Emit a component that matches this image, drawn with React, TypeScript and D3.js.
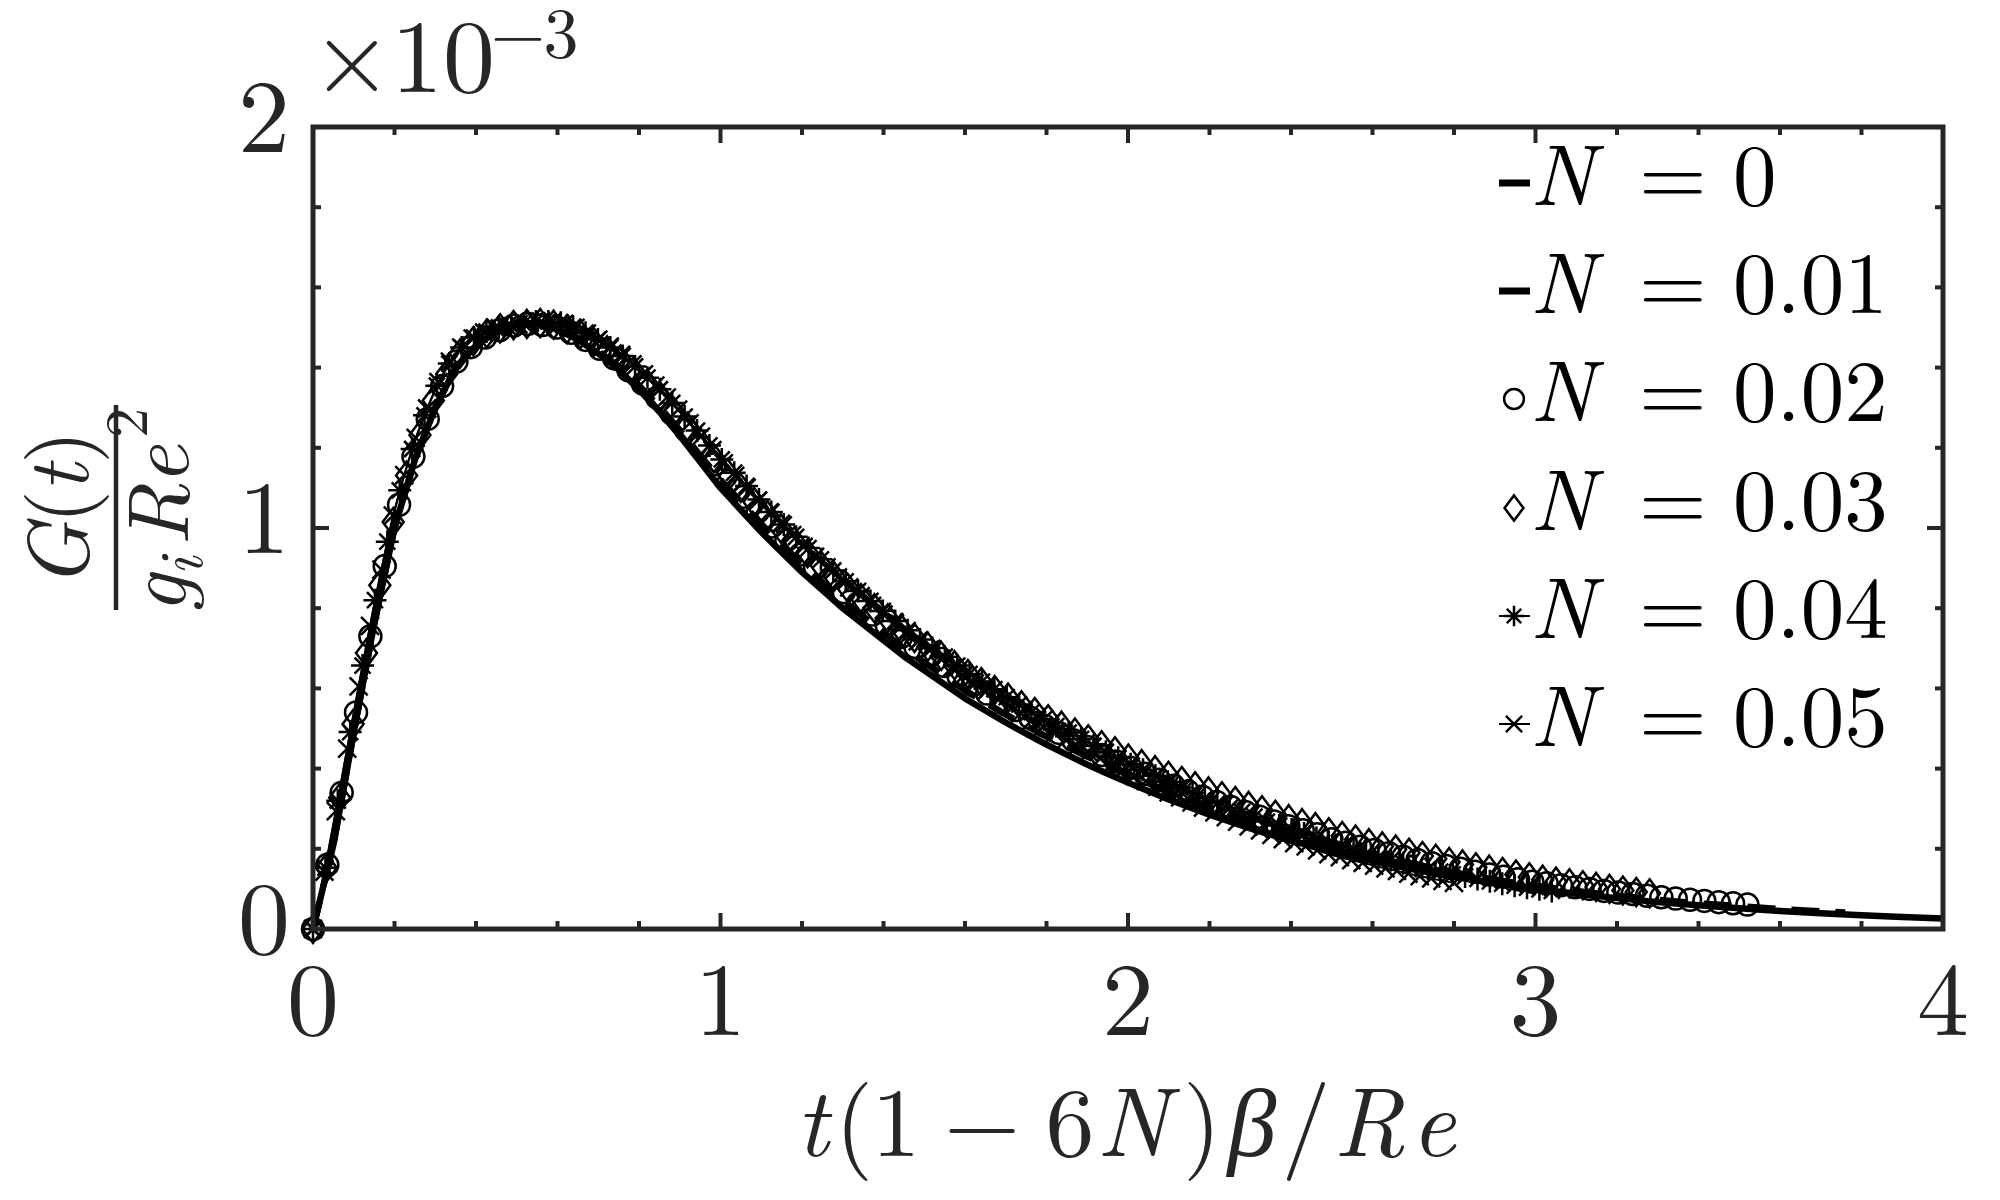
import React from 'react';
import * as d3 from 'd3';

const W = 2000;
const H = 1200;

// ---- axis ticks ----
const X_TICKS = [0, 1, 2, 3, 4];
const X_TICK_LABELS = ['0', '1', '2', '3', '4'];
const Y_TICKS = [0, 1, 2];
const Y_TICK_LABELS = ['0', '1', '2'];
const X_MINOR = [0.2, 0.4, 0.6, 0.8, 1.2, 1.4, 1.6, 1.8, 2.2, 2.4, 2.6, 2.8, 3.2, 3.4, 3.6, 3.8];
const Y_MINOR = [0.2, 0.4, 0.6, 0.8, 1.2, 1.4, 1.6, 1.8];

// ---- N = 0 (solid line): scaled time s and G/(g_i Re^2) in units of 1e-3 ----
const S_N0 = [0, 0.05, 0.1, 0.15, 0.2, 0.25, 0.3, 0.35, 0.4, 0.45, 0.5, 0.55, 0.6, 0.65, 0.7, 0.75, 0.8, 0.85, 0.9, 0.95,
  1.0, 1.05, 1.1, 1.15, 1.2, 1.25, 1.3, 1.35, 1.4, 1.45, 1.5, 1.55, 1.6, 1.65, 1.7, 1.75, 1.8, 1.85, 1.9, 1.95, 2.0,
  2.1, 2.2, 2.3, 2.4, 2.5, 2.6, 2.7, 2.8, 2.9, 3.0, 3.1, 3.2, 3.3, 3.4, 3.5, 3.6, 3.7, 3.8, 3.9, 4.0];
const G_N0 = [0, 0.21, 0.49, 0.76, 1.0, 1.17, 1.3, 1.4, 1.455, 1.49, 1.507, 1.51, 1.495, 1.47, 1.435, 1.395, 1.345, 1.29, 1.23, 1.165,
  1.1, 1.045, 0.99, 0.94, 0.89, 0.845, 0.8, 0.76, 0.72, 0.68, 0.645, 0.61, 0.575, 0.545, 0.515, 0.487, 0.46, 0.435, 0.41, 0.387, 0.365,
  0.323, 0.285, 0.251, 0.22, 0.194, 0.17, 0.149, 0.13, 0.114, 0.1, 0.088, 0.077, 0.067, 0.059, 0.052, 0.045, 0.039, 0.034, 0.03, 0.026];

// ---- N = 0.01 (dashed line) ----
const S_N001 = [0, 0.05, 0.1, 0.15, 0.2, 0.25, 0.3, 0.35, 0.4, 0.45, 0.5, 0.55, 0.6, 0.65, 0.7, 0.75, 0.8, 0.85, 0.9, 0.95,
  1.0, 1.05, 1.1, 1.15, 1.2, 1.25, 1.3, 1.35, 1.4, 1.45, 1.5, 1.55, 1.6, 1.65, 1.7, 1.75, 1.8, 1.85, 1.9, 1.95, 2.0,
  2.1, 2.2, 2.3, 2.4, 2.5, 2.6, 2.7, 2.8, 2.9, 3.0, 3.1, 3.2, 3.3, 3.4, 3.5, 3.6, 3.7, 3.76];
const G_N001 = [0, 0.21, 0.49, 0.76, 1.0, 1.17, 1.3, 1.4, 1.455, 1.49, 1.507, 1.51, 1.497, 1.474, 1.441, 1.403, 1.355, 1.302, 1.244, 1.181,
  1.12, 1.065, 1.01, 0.96, 0.91, 0.865, 0.82, 0.78, 0.74, 0.7, 0.665, 0.63, 0.595, 0.565, 0.535, 0.507, 0.48, 0.455, 0.43, 0.407, 0.385,
  0.342, 0.303, 0.268, 0.237, 0.209, 0.184, 0.162, 0.141, 0.123, 0.108, 0.095, 0.083, 0.073, 0.064, 0.057, 0.05, 0.044, 0.041];

// ---- marker series, sampled every 0.04 of raw time (x = t(1-6N)) ----
const RAW_STEP = 0.04;
const G_N002 = [0, 0.16, 0.34, 0.54, 0.73, 0.905, 1.058, 1.178, 1.272, 1.354,
  1.415, 1.451, 1.475, 1.493, 1.505, 1.509, 1.506, 1.5, 1.487, 1.469,
  1.447, 1.423, 1.393, 1.36, 1.325, 1.286, 1.245, 1.202, 1.159, 1.117,
  1.078, 1.04, 1.004, 0.969, 0.934, 0.902, 0.871, 0.84, 0.812, 0.784,
  0.757, 0.728, 0.703, 0.68, 0.656, 0.631, 0.608, 0.587, 0.566, 0.546,
  0.527, 0.507, 0.489, 0.471, 0.454, 0.434, 0.418, 0.402, 0.387, 0.372,
  0.357, 0.343, 0.33, 0.317, 0.304, 0.292, 0.28, 0.268, 0.256, 0.246,
  0.236, 0.224, 0.215, 0.205, 0.197, 0.189, 0.18, 0.172, 0.164, 0.157,
  0.15, 0.143, 0.136, 0.13, 0.124, 0.118, 0.114, 0.109, 0.104, 0.1,
  0.095, 0.091, 0.087, 0.083, 0.079, 0.076, 0.073, 0.07, 0.067, 0.064, 0.061];
const G_N003 = [0, 0.153, 0.327, 0.511, 0.688, 0.857, 1.015, 1.131, 1.232, 1.318,
  1.384, 1.435, 1.466, 1.485, 1.498, 1.506, 1.509, 1.511, 1.507, 1.496,
  1.483, 1.464, 1.443, 1.42, 1.391, 1.36, 1.327, 1.29, 1.253, 1.213,
  1.174, 1.137, 1.1, 1.065, 1.032, 0.999, 0.967, 0.937, 0.907, 0.879,
  0.851, 0.825, 0.8, 0.775, 0.749, 0.726, 0.704, 0.681, 0.658, 0.636,
  0.616, 0.596, 0.577, 0.558, 0.541, 0.523, 0.507, 0.49, 0.473, 0.458,
  0.443, 0.425, 0.411, 0.396, 0.382, 0.369, 0.356, 0.343, 0.331, 0.319,
  0.307, 0.296, 0.285, 0.274, 0.264, 0.254, 0.241, 0.232, 0.223, 0.214,
  0.206, 0.198, 0.19, 0.182, 0.175, 0.167, 0.161, 0.154, 0.148, 0.142,
  0.136, 0.129, 0.123, 0.118, 0.114, 0.109, 0.105, 0.1, 0.096, 0.092, 0.089];
const G_N004 = [0, 0.153, 0.32, 0.491, 0.657, 0.82, 0.966, 1.094, 1.197, 1.281,
  1.355, 1.41, 1.45, 1.475, 1.49, 1.5, 1.505, 1.51, 1.515, 1.515,
  1.512, 1.502, 1.487, 1.47, 1.45, 1.429, 1.403, 1.375, 1.346, 1.312,
  1.278, 1.243, 1.206, 1.171, 1.138, 1.105, 1.071, 1.04, 1.009, 0.978,
  0.95, 0.922, 0.894, 0.867, 0.843, 0.818, 0.793, 0.768, 0.745, 0.722,
  0.701, 0.679, 0.657, 0.636, 0.617, 0.598, 0.578, 0.56, 0.541, 0.523,
  0.506, 0.49, 0.474, 0.457, 0.442, 0.427, 0.411, 0.397, 0.382, 0.367,
  0.353, 0.339, 0.326, 0.314, 0.302, 0.292, 0.28, 0.268, 0.258, 0.248,
  0.238, 0.227, 0.217, 0.207, 0.196, 0.188, 0.179, 0.172, 0.164, 0.157,
  0.15, 0.143, 0.136, 0.131, 0.125, 0.119, 0.113, 0.108, 0.103, 0.099, 0.095];
const G_N005 = [0, 0.143, 0.294, 0.45, 0.605, 0.756, 0.896, 1.031, 1.132, 1.225,
  1.298, 1.364, 1.415, 1.45, 1.472, 1.487, 1.499, 1.504, 1.508, 1.512,
  1.515, 1.515, 1.509, 1.499, 1.485, 1.47, 1.452, 1.432, 1.408, 1.383,
  1.355, 1.325, 1.295, 1.261, 1.228, 1.194, 1.161, 1.13, 1.1, 1.068,
  1.039, 1.01, 0.982, 0.953, 0.928, 0.902, 0.877, 0.852, 0.83, 0.806,
  0.784, 0.761, 0.738, 0.717, 0.696, 0.674, 0.652, 0.631, 0.612, 0.593,
  0.574, 0.556, 0.538, 0.521, 0.504, 0.488, 0.472, 0.456, 0.44, 0.425,
  0.411, 0.396, 0.382, 0.369, 0.355, 0.341, 0.328, 0.316, 0.303, 0.291,
  0.279, 0.268, 0.256, 0.246, 0.235, 0.224, 0.214, 0.206, 0.196, 0.187,
  0.179, 0.172, 0.165, 0.158, 0.151, 0.145, 0.138, 0.132, 0.126, 0.12, 0.115];

const LEGEND_VALUES = ['0', '0.01', '0.02', '0.03', '0.04', '0.05'];
const LEGEND_KINDS = ['solid', 'dashed', 'circle', 'diamond', 'asterisk', 'xline'];

const AX = '#262626';
const FONT = "'Latin Modern Roman', 'Liberation Serif', serif";
const GREEK = "'Liberation Serif', serif";

const MARKER_SERIES = [
  { N: 0.02, values: G_N002, kind: 'circle' },
  { N: 0.03, values: G_N003, kind: 'diamond' },
  { N: 0.04, values: G_N004, kind: 'asterisk' },
  { N: 0.05, values: G_N005, kind: 'xline' },
];

function Marker({ kind, cx, cy, scale = 1 }: { kind: string; cx: number; cy: number; scale?: number }) {
  const sw = 2.5;
  if (kind === 'circle') {
    return <circle cx={cx} cy={cy} r={11 * scale} fill="none" stroke="#000" strokeWidth={sw} />;
  }
  if (kind === 'diamond') {
    const a = 10.5 * scale, b = 14 * scale;
    return <path d={`M${cx},${cy - b}L${cx + a},${cy}L${cx},${cy + b}L${cx - a},${cy}Z`} fill="none" stroke="#000" strokeWidth={sw} />;
  }
  if (kind === 'asterisk') {
    const r = 11.5 * scale, d = 8 * scale;
    return (
      <path
        d={`M${cx - r},${cy}L${cx + r},${cy}M${cx},${cy - r}L${cx},${cy + r}M${cx - d},${cy - d}L${cx + d},${cy + d}M${cx - d},${cy + d}L${cx + d},${cy - d}`}
        stroke="#000" strokeWidth={sw} fill="none" />
    );
  }
  const d = 9 * scale;
  return (
    <path d={`M${cx - d},${cy - d}L${cx + d},${cy + d}M${cx - d},${cy + d}L${cx + d},${cy - d}`}
      stroke="#000" strokeWidth={sw} fill="none" />
  );
}

export default function App() {
  const left = 313, right = 1943, top = 127, bottom = 929;
  const x = d3.scaleLinear().domain([0, 4]).range([left, right]);
  const y = d3.scaleLinear().domain([0, 2]).range([bottom, top]);

  const line = d3.line<[number, number]>().x(d => x(d[0])).y(d => y(d[1]));
  const n0 = S_N0.map((s, i) => [s, G_N0[i]] as [number, number]);
  const n1 = S_N001.map((s, i) => [s, G_N001[i]] as [number, number]);

  const major = 16, minor = 8;
  const legendBase = [205, 313, 421, 530, 638, 746];
  const tf = { fontFamily: FONT };

  return (
    <svg width={W} height={H} viewBox={`0 0 ${W} ${H}`} style={{ position: 'absolute', left: 0, top: 0, background: '#fff', fontFamily: FONT }}>
      <rect x={0} y={0} width={W} height={H} fill="#fff" />

      <defs>
        <clipPath id="plotclip">
          <rect x={left} y={top} width={right - left} height={bottom - top} />
        </clipPath>
      </defs>
      <g clipPath="url(#plotclip)">
        <path d={line(n0) || ''} fill="none" stroke="#000" strokeWidth={6.5} strokeLinejoin="round" />
        <path d={line(n1) || ''} fill="none" stroke="#000" strokeWidth={6.5} strokeDasharray="28 16" />
      </g>

      {MARKER_SERIES.map(ser => {
        const pts = ser.values.map((g, k) => [k * RAW_STEP * (1 - 6 * ser.N), g] as [number, number]);
        return (
          <g key={ser.N}>
            {(ser.kind === 'asterisk' || ser.kind === 'xline') && (
              <path d={line(pts) || ''} fill="none" stroke="#000" strokeWidth={2} />
            )}
            {pts.map((p, i) => (
              <Marker key={i} kind={ser.kind} cx={x(p[0])} cy={y(p[1])} />
            ))}
          </g>
        );
      })}

      <rect x={left} y={top} width={right - left} height={bottom - top} fill="none" stroke={AX} strokeWidth={5} />
      {X_TICKS.map(t => (
        <g key={'xt' + t}>
          <line x1={x(t)} x2={x(t)} y1={bottom} y2={bottom - major} stroke={AX} strokeWidth={4} />
          <line x1={x(t)} x2={x(t)} y1={top} y2={top + major} stroke={AX} strokeWidth={4} />
        </g>
      ))}
      {X_MINOR.map(t => (
        <g key={'xm' + t}>
          <line x1={x(t)} x2={x(t)} y1={bottom} y2={bottom - minor} stroke={AX} strokeWidth={4} />
          <line x1={x(t)} x2={x(t)} y1={top} y2={top + minor} stroke={AX} strokeWidth={4} />
        </g>
      ))}
      {Y_TICKS.map(v => (
        <g key={'yt' + v}>
          <line x1={left} x2={left + major} y1={y(v)} y2={y(v)} stroke={AX} strokeWidth={4} />
          <line x1={right} x2={right - major} y1={y(v)} y2={y(v)} stroke={AX} strokeWidth={4} />
        </g>
      ))}
      {Y_MINOR.map(v => (
        <g key={'ym' + v}>
          <line x1={left} x2={left + minor} y1={y(v)} y2={y(v)} stroke={AX} strokeWidth={4} />
          <line x1={right} x2={right - minor} y1={y(v)} y2={y(v)} stroke={AX} strokeWidth={4} />
        </g>
      ))}

      {X_TICKS.map((t, i) => (
        <text key={'xl' + t} x={x(t)} y={1035} textAnchor="middle" style={tf} fontSize={104} fill={AX}>{X_TICK_LABELS[i]}</text>
      ))}
      {Y_TICKS.map((v, i) => (
        <text key={'yl' + v} x={290} y={y(v) + 25} textAnchor="end" style={tf} fontSize={104} fill={AX}>{Y_TICK_LABELS[i]}</text>
      ))}

      <text style={tf} fill={AX}>
        <tspan x={352} y={92} textAnchor="middle" fontSize={104}>×</tspan>
        <tspan x={443} y={92} textAnchor="middle" fontSize={104}>10</tspan>
        <tspan x={518} y={57} textAnchor="middle" fontSize={70}>−</tspan>
        <tspan x={561} y={57} textAnchor="middle" fontSize={70}>3</tspan>
      </text>

      <text style={tf} fontSize={98} fill={AX} textAnchor="middle">
        <tspan x={812} y={1156} fontStyle="italic">t</tspan>
        <tspan x={854} y={1156}>(</tspan>
        <tspan x={896} y={1156}>1</tspan>
        <tspan x={982} y={1156}>−</tspan>
        <tspan x={1070} y={1156}>6</tspan>
        <tspan x={1133} y={1156} fontStyle="italic">N</tspan>
        <tspan x={1202} y={1156}>)</tspan>
        <tspan x={1252} y={1156} fontStyle="italic" style={{ fontFamily: GREEK }}>β</tspan>
        <tspan x={1306} y={1156}>/</tspan>
        <tspan x={1369} y={1156} fontStyle="italic">R</tspan>
        <tspan x={1433} y={1156} fontStyle="italic">e</tspan>
      </text>

      <g transform="rotate(-90)">
        <text style={tf} fill={AX} textAnchor="middle" fontSize={86}>
          <tspan x={-555} y={88} fontStyle="italic">G</tspan>
          <tspan x={-507} y={88}>(</tspan>
          <tspan x={-478} y={88} fontStyle="italic">t</tspan>
          <tspan x={-447} y={88}>)</tspan>
        </text>
        <text style={tf} fill={AX} textAnchor="middle" fontSize={86}>
          <tspan x={-594} y={186} fontStyle="italic">g</tspan>
          <tspan x={-566} y={202} fontSize={60} fontStyle="italic">i</tspan>
          <tspan x={-515} y={188} fontStyle="italic">R</tspan>
          <tspan x={-465} y={188} fontStyle="italic">e</tspan>
          <tspan x={-423} y={147} fontSize={60}>2</tspan>
        </text>
      </g>
      <line x1={116} x2={116} y1={405} y2={610} stroke={AX} strokeWidth={4.5} />

      {LEGEND_VALUES.map((v, i) => {
        const base = legendBase[i];
        const my = base - 22;
        const kind = LEGEND_KINDS[i];
        return (
          <g key={'lg' + v}>
            {(kind === 'solid' || kind === 'dashed') && (
              <line x1={1499} x2={1530} y1={my} y2={my} stroke="#000" strokeWidth={7} />
            )}
            {(kind === 'asterisk' || kind === 'xline') && (
              <line x1={1499} x2={1530} y1={my} y2={my} stroke="#000" strokeWidth={2} />
            )}
            {kind !== 'solid' && kind !== 'dashed' && (
              <Marker kind={kind} cx={1514} cy={my} scale={0.9} />
            )}
            <text style={tf} fontSize={87} fill="#000">
              <tspan x={1530} y={base} fontStyle="italic">N</tspan>
              <tspan x={1639} y={base}>=</tspan>
              <tspan x={1733} y={base}>{v}</tspan>
            </text>
          </g>
        );
      })}
    </svg>
  );
}
